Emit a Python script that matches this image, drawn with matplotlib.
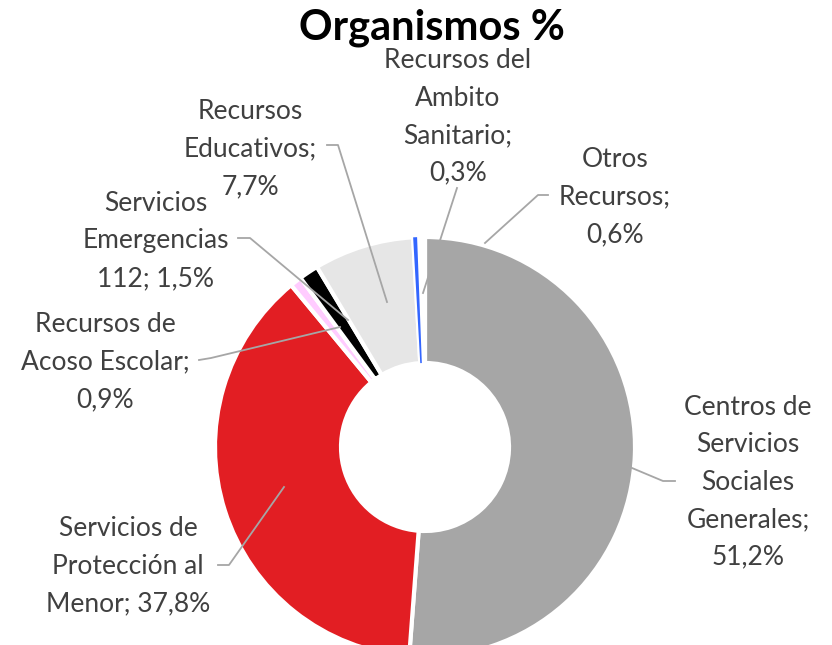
import matplotlib
matplotlib.use('Agg')
import matplotlib.pyplot as plt
from matplotlib.patches import Wedge

# datos del grafico
names = ['Centros de\nServicios\nSociales\nGenerales;', 'Servicios de\nProtección al\nMenor;',
         'Recursos de\nAcoso Escolar;', 'Servicios\nEmergencias\n112;', 'Recursos\nEducativos;',
         'Recursos del\nAmbito\nSanitario;', 'Otros\nRecursos;']
seps = ['\n', ' ', '\n', ' ', '\n', '\n', '\n']
values = [51.2, 37.8, 0.9, 1.5, 7.7, 0.3, 0.6]
colors = ['#A6A6A6', '#E21E23', '#FFCCFF', '#000000', '#E6E6E6', '#3366FF', '#FFFFFF']

W, H = 832, 645
CX, CY, R = 425, 447, 210


def px(x, y):
    # pixel -> datos
    return (x - CX) / R, (CY - y) / R


# posicion de etiquetas (centro del texto, px) y lineas guia (px)
label_pos = [(748, 482), (128, 566), (105, 362), (156, 241), (250, 149), (458, 117), (615, 197)]
leaders = [
    [(675, 481), (663, 481), (632, 468)],
    [(218, 565), (229, 565), (284, 487)],
    [(199, 360), (211, 358), (340, 327)],
    [(238, 238), (250, 238), (348, 320)],
    [(327, 145), (338, 145), (387, 302)],
    [(457, 188), (423, 293)],
    [(548, 195), (538, 195), (485, 243)],
]

plt.rcParams['font.family'] = ['Lato', 'DejaVu Sans']

fig = plt.figure(figsize=(W / 100, H / 100), dpi=100)
ax = fig.add_axes([0, 0, 1, 1])

wedges, _ = ax.pie(values, colors=colors, startangle=90, counterclock=False, radius=1.0,
                   wedgeprops=dict(width=0.6, edgecolor='white', linewidth=3))

# la porcion azul es muy fina: se redibuja sin borde para que se vea
w = wedges[5]
ax.add_patch(Wedge((0, 0), 1.0, w.theta1, w.theta2, width=0.6,
                   facecolor=colors[5], edgecolor='none', zorder=3))

for pts in leaders:
    xs, ys = zip(*[px(x, y) for x, y in pts])
    ax.plot(xs, ys, color='#A6A6A6', lw=1.3, zorder=5)

for name, sep, v, (lx, ly) in zip(names, seps, values, label_pos):
    txt = f"{name}{sep}{v:.1f}%".replace('.', ',')
    x, y = px(lx, ly)
    ax.text(x, y, txt, ha='center', va='center', fontsize=19, color='#404040',
            linespacing=1.62, zorder=6)

tx, ty = px(432, 28)
ax.text(tx, ty, 'Organismos %', ha='center', va='center', fontsize=30,
        fontweight='bold', color='black')

ax.set_xlim(-CX / R, (W - CX) / R)
ax.set_ylim(-(H - CY) / R, CY / R)
ax.set_aspect('auto')
ax.axis('off')

plt.savefig('out.png', dpi=100)
